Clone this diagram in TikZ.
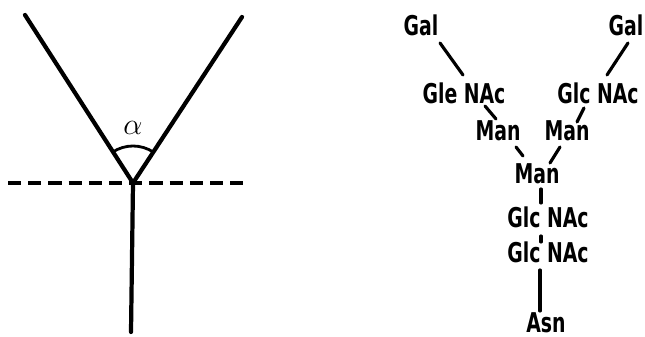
\documentclass[tikz,border=0pt]{standalone}
\usepackage{fontspec}
\usetikzlibrary{positioning,calc}
\newfontfamily\sugarfont[FakeStretch=0.77]{DejaVu Sans Condensed Bold}
\tikzset{
  sugar/.style={inner sep=0pt, font=\sugarfont\fontsize{15.5}{18}\selectfont},
  bond/.style={line width=1.8pt, line cap=round},
  arm/.style={line width=2.4pt, line cap=round},
  axis/.style={line width=2pt, dash pattern=on 7.5pt off 4pt},
}

\begin{document}
\begin{tikzpicture}[x=0.02cm, y=0.02cm]
  \useasboundingbox (0,0) rectangle (645,337);
  % angle sketch
  \coordinate (v) at (133,154);
  \draw[axis] (8,154) -- (243,154);
  \draw[arm] (25,322) -- (v) -- (242,320);
  \draw[arm] (v) -- (131,5);
  \draw[line width=1.6pt] ($(v)+(124:37)$) arc (124:56:37);
  \node[font=\fontsize{17}{20}\selectfont] (alpha) at (133,209) {$\alpha$};
  % oligosaccharide
  \node[sugar] (galL) at (421,312) {Gal};
  \node[sugar] (galR) at (626,312) {Gal};
  \node[sugar] (gleL) at (464,244) {Gle NAc};
  \node[sugar] (glcR) at (598,244) {Glc NAc};
  \node[sugar] (manL) at (498,206) {Man};
  \node[sugar] (manR) at (567,206) {Man};
  \node[sugar] (manC) at (537,163) {Man};
  \node[sugar] (glcA) at (548,120) {Glc NAc};
  \node[sugar] (glcB) at (548,85) {Glc NAc};
  \node[sugar] (asn) at (546,14) {Asn};
  \draw[bond] ($(galL)+(19,-18)$) -- ($(gleL)+(-1,18)$);
  \draw[bond] ($(galR)+(2,-18)$) -- ($(glcR)+(9,18)$);
  \draw[bond] ($(gleL)+(21,-13)$) -- ($(manL)+(-2,12)$);
  \draw[bond] ($(glcR)+(-14,-15)$) -- ($(manR)+(10,9)$);
  \draw[bond] ($(manL)+(18,-16)$) -- ($(manC)+(-14,18)$);
  \draw[bond] ($(manR)+(-7,-16)$) -- ($(manC)+(13,11)$);
  \draw[bond] ($(manC)+(4,-15)$) -- ($(glcA)+(-7,14)$);
  \draw[bond] ($(glcA)+(-7,-19)$) -- ($(glcB)+(-7,10)$);
  \draw[bond] ($(glcB)+(-8,-18)$) -- ($(asn)+(-6,12)$);
\end{tikzpicture}
\end{document}
